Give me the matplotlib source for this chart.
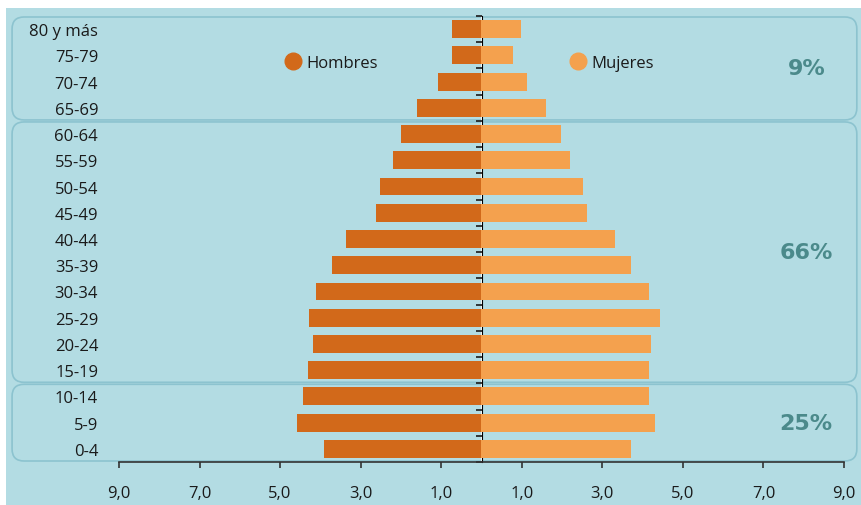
import matplotlib.pyplot as plt
import numpy as np
from matplotlib.patches import FancyBboxPatch, Rectangle
from matplotlib.lines import Line2D
from matplotlib.transforms import IdentityTransform, blended_transform_factory

# --- Datos (porcentaje de la población por grupo de edad) ---
edades = ['0-4', '5-9', '10-14', '15-19', '20-24', '25-29', '30-34', '35-39',
          '40-44', '45-49', '50-54', '55-59', '60-64', '65-69', '70-74',
          '75-79', '80 y más']
hombres = [3.90, 4.58, 4.43, 4.30, 4.18, 4.28, 4.10, 3.71, 3.36, 2.61,
           2.51, 2.19, 1.99, 1.60, 1.07, 0.72, 0.72]
mujeres = [3.71, 4.30, 4.15, 4.15, 4.20, 4.43, 4.15, 3.71, 3.31, 2.61,
           2.51, 2.19, 1.97, 1.59, 1.12, 0.77, 0.97]

# grupos grandes de edad (índice inicial, índice final, porcentaje)
grupos_ini = [0, 3, 13]
grupos_fin = [2, 12, 16]
grupos_pct = ['25%', '66%', '9%']

xticks = [-9, -7, -5, -3, -1, 1, 3, 5, 7, 9]

# --- Colores ---
fondo = '#b3dce3'
borde = '#8cc3cf'
c_hombres = '#d2691a'
c_mujeres = '#f4a14e'
c_pct = '#4b8a8b'

plt.rcParams['font.family'] = ['Open Sans', 'DejaVu Sans']

W, H = 862, 506
fig = plt.figure(figsize=(W / 100, H / 100), dpi=100, facecolor=fondo)
ax = fig.add_axes([119 / W, 43 / H, 725 / W, 446 / H])
ax.set_facecolor('none')

y = np.arange(len(edades))
ax.barh(y, -np.array(hombres), height=0.68, color=c_hombres, zorder=2)
ax.barh(y, mujeres, height=0.68, color=c_mujeres, zorder=2)

ax.set_xlim(-9, 9)
ax.set_ylim(-0.5, len(edades) - 0.5)

ax.set_xticks(xticks)
ax.set_xticklabels([f'{abs(v):.1f}'.replace('.', ',') for v in xticks])
ax.set_yticks(y)
ax.set_yticklabels(edades)
ax.tick_params(axis='y', length=0, pad=15, labelsize=12, labelcolor='#1a1a1a')
ax.tick_params(axis='x', length=4, width=1.2, direction='out', pad=12.5,
               labelsize=12, labelcolor='#1a1a1a', color='#333333')
for s in ['left', 'right', 'top']:
    ax.spines[s].set_visible(False)
ax.spines['bottom'].set_color('#333333')
ax.spines['bottom'].set_linewidth(1.2)

# eje central con marcas entre grupos de edad
sec = ax.secondary_yaxis(0.5)
sec.set_yticks(np.arange(len(edades) + 1) - 0.5)
sec.set_yticklabels([])
sec.tick_params(length=4, width=1.2, direction='in', color='#1a1a1a')
sec.spines['left'].set_color('#1a1a1a')
sec.spines['left'].set_linewidth(1.3)

# cajas redondeadas por grupo y porcentajes
trans_pct = blended_transform_factory(ax.transAxes, ax.transData)
for ini, fin, pct in zip(grupos_ini, grupos_fin, grupos_pct):
    (_, y0), (_, y1) = ax.transData.transform([(0, ini - 0.5), (0, fin + 0.5)])
    x0, x1 = 0.014 * W, 0.994 * W
    caja = FancyBboxPatch((x0, y0 + 1), x1 - x0, y1 - y0 - 2,
                          boxstyle='round,pad=0,rounding_size=12',
                          transform=IdentityTransform(), facecolor=fondo,
                          edgecolor=borde, linewidth=1.2, zorder=-1)
    fig.add_artist(caja)
    ax.text(0.948, (ini + fin) / 2, pct, transform=trans_pct, ha='center',
            va='center', fontsize=16, fontweight='bold', color=c_pct,
            family='DejaVu Sans', clip_on=False)

# franjas blancas del recorte original
fig.add_artist(Rectangle((0, 1 - 9 / H), 1, 9 / H, transform=fig.transFigure,
                         facecolor='white', edgecolor='none', zorder=-2))
fig.add_artist(Rectangle((0, 0), 6 / W, 1, transform=fig.transFigure,
                         facecolor='white', edgecolor='none', zorder=-2))

# leyenda
handles = [Line2D([], [], marker='o', ls='none', color=c_hombres, markersize=12),
           Line2D([], [], marker='o', ls='none', color=c_mujeres, markersize=12)]
ax.legend(handles, ['Hombres', 'Mujeres'], ncol=2, frameon=False, loc='center',
          bbox_to_anchor=(0.483, 0.895), columnspacing=11.5, handlelength=1.0,
          handletextpad=0.3, fontsize=12, labelcolor='#1a1a1a')

fig.savefig('out.png', dpi=100, facecolor=fondo)
